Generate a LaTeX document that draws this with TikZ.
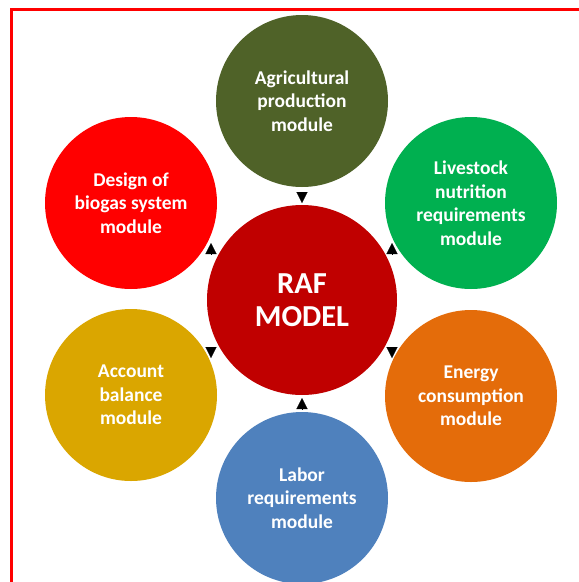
\documentclass[tikz,border=0pt]{standalone}
\usepackage{fontspec}
\setmainfont{Carlito}
\usetikzlibrary{arrows.meta}
\definecolor{cagri}{HTML}{4F6228}
\definecolor{clive}{HTML}{00B050}
\definecolor{cdesign}{HTML}{FF0000}
\definecolor{craf}{HTML}{C00000}
\definecolor{cacc}{HTML}{DAA600}
\definecolor{cenergy}{HTML}{E46C0A}
\definecolor{clabor}{HTML}{4F81BD}
\tikzset{
  modcircle/.style={circle, minimum size=172pt, inner sep=0pt, text=white, align=center,
    font=\bfseries\fontsize{19.5}{23.5}\selectfont},
  rafcircle/.style={circle, minimum size=190pt, inner sep=0pt, text=white, align=center,
    font=\bfseries\fontsize{30.5}{33}\selectfont, fill=craf},
  tri/.style={line width=0.1pt, -{Triangle[width=11pt,length=11pt]}},
  frame/.style={draw=red, line width=2.5pt}
}
\begin{document}
\begin{tikzpicture}[x=1pt,y=-1pt]
\useasboundingbox (0,0) rectangle (579,582);
\clip (0,0) rectangle (579,582);
\fill[white] (0,0) rectangle (579,582);
\draw[frame] (11.5,9.5) rectangle (620,620);

\node[modcircle, fill=cagri] (agri) at (302,101) {Agricultural\\production\\module};
\node[modcircle, fill=clive] (live) at (471,203) {Livestock\\nutrition\\requirements\\module};
\node[modcircle, fill=cenergy] (energy) at (471,396) {Energy\\consumption\\module};
\node[modcircle, fill=clabor] (labor) at (302,498) {Labor\\requirements\\module};
\node[modcircle, fill=cacc] (acc) at (131,395) {Account\\balance\\module};
\node[modcircle, fill=cdesign] (design) at (131,203) {Design of\\biogas system\\module};
\node[rafcircle] (raf) at (302,300) {RAF\\MODEL};

\coordinate (a1s) at (302,192); \coordinate (a1e) at (302,203);
\coordinate (a2s) at (211,254); \coordinate (a2e) at (211,243);
\coordinate (a3s) at (392,254); \coordinate (a3e) at (392,243);
\coordinate (a4s) at (211,347); \coordinate (a4e) at (211,358);
\coordinate (a5s) at (392,347); \coordinate (a5e) at (392,358);
\coordinate (a6s) at (302,409); \coordinate (a6e) at (302,398);
\draw[tri] (a1s) -- (a1e);
\draw[tri] (a2s) -- (a2e);
\draw[tri] (a3s) -- (a3e);
\draw[tri] (a4s) -- (a4e);
\draw[tri] (a5s) -- (a5e);
\draw[tri] (a6s) -- (a6e);
\end{tikzpicture}
\end{document}
